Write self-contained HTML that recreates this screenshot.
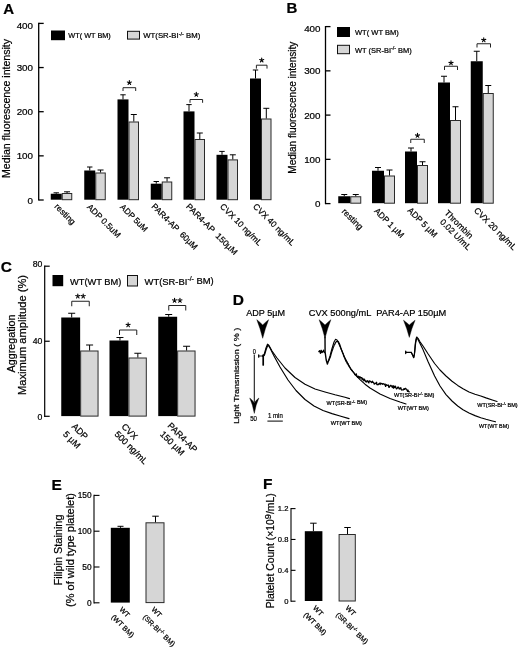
<!DOCTYPE html>
<html><head><meta charset="utf-8"><title>Figure</title>
<style>
html,body{margin:0;padding:0;background:#fff;}
body{width:520px;height:650px;overflow:hidden;font-family:'Liberation Sans', sans-serif;}
svg{display:block;filter:blur(0.3px);}
svg text{font-family:"Liberation Sans",sans-serif;fill:#000;stroke:#000;stroke-width:0.22px;}
</style></head><body>
<svg width="520" height="650" viewBox="0 0 520 650">
<rect width="520" height="650" fill="#fff"/>
<text x="3.2" y="13.6" font-size="15" font-weight="bold">A</text>
<line x1="38.7" y1="22.799999999999997" x2="38.7" y2="200.6" stroke="#000" stroke-width="1.3"/>
<line x1="38.7" y1="200.0" x2="43.7" y2="200.0" stroke="#000" stroke-width="1.3"/>
<text x="33" y="203.528" font-size="9.8" text-anchor="end">0</text>
<line x1="38.7" y1="155.85" x2="43.7" y2="155.85" stroke="#000" stroke-width="1.3"/>
<text x="33" y="159.378" font-size="9.8" text-anchor="end">100</text>
<line x1="38.7" y1="111.7" x2="43.7" y2="111.7" stroke="#000" stroke-width="1.3"/>
<text x="33" y="115.22800000000001" font-size="9.8" text-anchor="end">200</text>
<line x1="38.7" y1="67.55000000000001" x2="43.7" y2="67.55000000000001" stroke="#000" stroke-width="1.3"/>
<text x="33" y="71.07800000000002" font-size="9.8" text-anchor="end">300</text>
<line x1="38.7" y1="23.400000000000006" x2="43.7" y2="23.400000000000006" stroke="#000" stroke-width="1.3"/>
<text x="33" y="28.528000000000006" font-size="9.8" text-anchor="end">400</text>
<text x="10.3" y="108.5" font-size="10.5" text-anchor="middle" transform="rotate(-90 10.3 108.5)" textLength="139" lengthAdjust="spacingAndGlyphs">Median fluorescence intensity</text>
<rect x="51" y="30.5" width="14" height="9.7" fill="#000"/>
<text x="68.3" y="38.4" font-size="7.4" textLength="42.5" lengthAdjust="spacingAndGlyphs">WT( WT BM)</text>
<rect x="127.5" y="31.3" width="12" height="7.8" fill="#d6d6d6" stroke="#111" stroke-width="1"/>
<text x="143.3" y="38.4" font-size="7.5" textLength="57" lengthAdjust="spacingAndGlyphs">WT(SR-BI<tspan font-size="72%" dy="-0.5em">-/-</tspan><tspan dy="0.325em"> BM)</tspan></text>
<rect x="50.75" y="193.75" width="11" height="5.949999999999989" fill="#000"/>
<rect x="62.25" y="193.5" width="9.5" height="6.199999999999989" fill="#d6d6d6" stroke="#2a2a2a" stroke-width="1"/>
<line x1="56.25" y1="193.75" x2="56.25" y2="192.8" stroke="#000" stroke-width="1"/>
<line x1="53.55" y1="192.8" x2="58.95" y2="192.8" stroke="#000" stroke-width="1"/>
<line x1="67.05" y1="193.0" x2="67.05" y2="191.8" stroke="#000" stroke-width="1"/>
<line x1="64.05" y1="191.8" x2="70.05" y2="191.8" stroke="#000" stroke-width="1"/>
<rect x="84.25" y="170.5" width="11" height="29.19999999999999" fill="#000"/>
<rect x="95.75" y="173.0" width="9.5" height="26.69999999999999" fill="#d6d6d6" stroke="#2a2a2a" stroke-width="1"/>
<line x1="89.75" y1="170.5" x2="89.75" y2="167.0" stroke="#000" stroke-width="1"/>
<line x1="87.05" y1="167.0" x2="92.45" y2="167.0" stroke="#000" stroke-width="1"/>
<line x1="100.55" y1="172.5" x2="100.55" y2="170.0" stroke="#000" stroke-width="1"/>
<line x1="97.55" y1="170.0" x2="103.55" y2="170.0" stroke="#000" stroke-width="1"/>
<rect x="117.5" y="99.4" width="11" height="100.29999999999998" fill="#000"/>
<rect x="129.0" y="122.0" width="9.5" height="77.69999999999999" fill="#d6d6d6" stroke="#2a2a2a" stroke-width="1"/>
<line x1="123.0" y1="99.4" x2="123.0" y2="94.8" stroke="#000" stroke-width="1"/>
<line x1="120.3" y1="94.8" x2="125.7" y2="94.8" stroke="#000" stroke-width="1"/>
<line x1="133.8" y1="121.5" x2="133.8" y2="114.5" stroke="#000" stroke-width="1"/>
<line x1="130.8" y1="114.5" x2="136.8" y2="114.5" stroke="#000" stroke-width="1"/>
<rect x="150.75" y="183.7" width="11" height="16.0" fill="#000"/>
<rect x="162.25" y="182.0" width="9.5" height="17.69999999999999" fill="#d6d6d6" stroke="#2a2a2a" stroke-width="1"/>
<line x1="156.25" y1="183.7" x2="156.25" y2="181.5" stroke="#000" stroke-width="1"/>
<line x1="153.55" y1="181.5" x2="158.95" y2="181.5" stroke="#000" stroke-width="1"/>
<line x1="167.05" y1="181.5" x2="167.05" y2="177.8" stroke="#000" stroke-width="1"/>
<line x1="164.05" y1="177.8" x2="170.05" y2="177.8" stroke="#000" stroke-width="1"/>
<rect x="183.5" y="111.4" width="11" height="88.29999999999998" fill="#000"/>
<rect x="195.0" y="139.5" width="9.5" height="60.19999999999999" fill="#d6d6d6" stroke="#2a2a2a" stroke-width="1"/>
<line x1="189.0" y1="111.4" x2="189.0" y2="104.6" stroke="#000" stroke-width="1"/>
<line x1="186.3" y1="104.6" x2="191.7" y2="104.6" stroke="#000" stroke-width="1"/>
<line x1="199.8" y1="139.0" x2="199.8" y2="133.0" stroke="#000" stroke-width="1"/>
<line x1="196.8" y1="133.0" x2="202.8" y2="133.0" stroke="#000" stroke-width="1"/>
<rect x="216.5" y="154.8" width="11" height="44.89999999999998" fill="#000"/>
<rect x="228.0" y="159.9" width="9.5" height="39.79999999999998" fill="#d6d6d6" stroke="#2a2a2a" stroke-width="1"/>
<line x1="222.0" y1="154.8" x2="222.0" y2="151.4" stroke="#000" stroke-width="1"/>
<line x1="219.3" y1="151.4" x2="224.7" y2="151.4" stroke="#000" stroke-width="1"/>
<line x1="232.8" y1="159.4" x2="232.8" y2="154.8" stroke="#000" stroke-width="1"/>
<line x1="229.8" y1="154.8" x2="235.8" y2="154.8" stroke="#000" stroke-width="1"/>
<rect x="250.0" y="78.5" width="11" height="121.19999999999999" fill="#000"/>
<rect x="261.5" y="119.0" width="9.5" height="80.69999999999999" fill="#d6d6d6" stroke="#2a2a2a" stroke-width="1"/>
<line x1="255.5" y1="78.5" x2="255.5" y2="70.0" stroke="#000" stroke-width="1"/>
<line x1="252.8" y1="70.0" x2="258.2" y2="70.0" stroke="#000" stroke-width="1"/>
<line x1="266.3" y1="118.5" x2="266.3" y2="108.3" stroke="#000" stroke-width="1"/>
<line x1="263.3" y1="108.3" x2="269.3" y2="108.3" stroke="#000" stroke-width="1"/>
<polyline points="123,91 123,87.7 135.7,87.7 135.7,91" fill="none" stroke="#222" stroke-width="1"/>
<path d="M129.35,82.70 L129.35,80.55 M129.35,82.70 L131.39,82.04 M129.35,82.70 L130.61,84.44 M129.35,82.70 L128.09,84.44 M129.35,82.70 L127.31,82.04 " stroke="#000" stroke-width="1.1" fill="none" stroke-linecap="round"/>
<polyline points="190,102.8 190,99.5 202.6,99.5 202.6,102.8" fill="none" stroke="#222" stroke-width="1"/>
<path d="M196.30,94.50 L196.30,92.35 M196.30,94.50 L198.34,93.84 M196.30,94.50 L197.56,96.24 M196.30,94.50 L195.04,96.24 M196.30,94.50 L194.26,93.84 " stroke="#000" stroke-width="1.1" fill="none" stroke-linecap="round"/>
<polyline points="256.4,68.6 256.4,65.2 267,65.2 267,68.6" fill="none" stroke="#222" stroke-width="1"/>
<path d="M261.70,60.20 L261.70,58.05 M261.70,60.20 L263.74,59.54 M261.70,60.20 L262.96,61.94 M261.70,60.20 L260.44,61.94 M261.70,60.20 L259.66,59.54 " stroke="#000" stroke-width="1.1" fill="none" stroke-linecap="round"/>
<text x="54.1" y="207.1" font-size="8.5" transform="rotate(45 54.1 207.1)">resting</text>
<text x="86.6" y="207.6" font-size="8.5" transform="rotate(45 86.6 207.6)">ADP 0.5uM</text>
<text x="119.6" y="207.6" font-size="8.5" transform="rotate(45 119.6 207.6)" textLength="35" lengthAdjust="spacingAndGlyphs">ADP 5uM</text>
<text x="151.1" y="207.1" font-size="8.5" transform="rotate(45 151.1 207.1)" textLength="61" lengthAdjust="spacingAndGlyphs">PAR4-AP&#160;&#160;60&#181;M</text>
<text x="185.6" y="207.1" font-size="8.5" transform="rotate(45 185.6 207.1)" textLength="68.5" lengthAdjust="spacingAndGlyphs">PAR4-AP&#160;&#160;150&#181;M</text>
<text x="219.6" y="207.1" font-size="8.5" transform="rotate(45 219.6 207.1)">CVX 10 ng/mL</text>
<text x="252.6" y="207.1" font-size="8.5" transform="rotate(45 252.6 207.1)">CVX 40 ng/mL</text>
<text x="286.6" y="13" font-size="15" font-weight="bold">B</text>
<line x1="325.5" y1="26.0" x2="325.5" y2="204.2" stroke="#000" stroke-width="1.3"/>
<line x1="325.5" y1="203.6" x2="330.5" y2="203.6" stroke="#000" stroke-width="1.3"/>
<text x="320.5" y="207.128" font-size="9.8" text-anchor="end">0</text>
<line x1="325.5" y1="159.35" x2="330.5" y2="159.35" stroke="#000" stroke-width="1.3"/>
<text x="320.5" y="162.878" font-size="9.8" text-anchor="end">100</text>
<line x1="325.5" y1="115.1" x2="330.5" y2="115.1" stroke="#000" stroke-width="1.3"/>
<text x="320.5" y="118.628" font-size="9.8" text-anchor="end">200</text>
<line x1="325.5" y1="70.85" x2="330.5" y2="70.85" stroke="#000" stroke-width="1.3"/>
<text x="320.5" y="74.378" font-size="9.8" text-anchor="end">300</text>
<line x1="325.5" y1="26.599999999999994" x2="330.5" y2="26.599999999999994" stroke="#000" stroke-width="1.3"/>
<text x="320.5" y="32.12799999999999" font-size="9.8" text-anchor="end">400</text>
<text x="296.3" y="107.7" font-size="10" text-anchor="middle" transform="rotate(-90 296.3 107.7)" textLength="132" lengthAdjust="spacingAndGlyphs">Median fluorescence intensity</text>
<rect x="337" y="27" width="13" height="10" fill="#000"/>
<text x="355" y="35.2" font-size="7.5" textLength="43.8" lengthAdjust="spacingAndGlyphs">WT( WT BM)</text>
<rect x="337.5" y="45.3" width="12" height="8.4" fill="#d6d6d6" stroke="#111" stroke-width="1"/>
<text x="355" y="52.8" font-size="7.5" textLength="56.8" lengthAdjust="spacingAndGlyphs">WT (SR-BI<tspan font-size="72%" dy="-0.5em">-/-</tspan><tspan dy="0.325em"> BM)</tspan></text>
<rect x="338.25" y="196.25" width="12" height="6.949999999999989" fill="#000"/>
<rect x="350.75" y="196.75" width="10" height="6.449999999999989" fill="#d6d6d6" stroke="#2a2a2a" stroke-width="1"/>
<line x1="344.25" y1="196.25" x2="344.25" y2="194.5" stroke="#000" stroke-width="1"/>
<line x1="341.25" y1="194.5" x2="347.25" y2="194.5" stroke="#000" stroke-width="1"/>
<line x1="355.75" y1="196.25" x2="355.75" y2="194.5" stroke="#000" stroke-width="1"/>
<line x1="352.75" y1="194.5" x2="358.75" y2="194.5" stroke="#000" stroke-width="1"/>
<rect x="372.0" y="170.75" width="12" height="32.44999999999999" fill="#000"/>
<rect x="384.5" y="176.0" width="10" height="27.19999999999999" fill="#d6d6d6" stroke="#2a2a2a" stroke-width="1"/>
<line x1="378.0" y1="170.75" x2="378.0" y2="167.5" stroke="#000" stroke-width="1"/>
<line x1="375.0" y1="167.5" x2="381.0" y2="167.5" stroke="#000" stroke-width="1"/>
<line x1="389.5" y1="175.5" x2="389.5" y2="170.0" stroke="#000" stroke-width="1"/>
<line x1="386.5" y1="170.0" x2="392.5" y2="170.0" stroke="#000" stroke-width="1"/>
<rect x="405.0" y="151.5" width="12" height="51.69999999999999" fill="#000"/>
<rect x="417.5" y="165.5" width="10" height="37.69999999999999" fill="#d6d6d6" stroke="#2a2a2a" stroke-width="1"/>
<line x1="411.0" y1="151.5" x2="411.0" y2="148.0" stroke="#000" stroke-width="1"/>
<line x1="408.0" y1="148.0" x2="414.0" y2="148.0" stroke="#000" stroke-width="1"/>
<line x1="422.5" y1="165.0" x2="422.5" y2="161.75" stroke="#000" stroke-width="1"/>
<line x1="419.5" y1="161.75" x2="425.5" y2="161.75" stroke="#000" stroke-width="1"/>
<rect x="438.0" y="82.5" width="12" height="120.69999999999999" fill="#000"/>
<rect x="450.5" y="120.5" width="10" height="82.69999999999999" fill="#d6d6d6" stroke="#2a2a2a" stroke-width="1"/>
<line x1="444.0" y1="82.5" x2="444.0" y2="76.25" stroke="#000" stroke-width="1"/>
<line x1="441.0" y1="76.25" x2="447.0" y2="76.25" stroke="#000" stroke-width="1"/>
<line x1="455.5" y1="120.0" x2="455.5" y2="106.75" stroke="#000" stroke-width="1"/>
<line x1="452.5" y1="106.75" x2="458.5" y2="106.75" stroke="#000" stroke-width="1"/>
<rect x="470.75" y="61.25" width="12" height="141.95" fill="#000"/>
<rect x="483.25" y="93.5" width="10" height="109.69999999999999" fill="#d6d6d6" stroke="#2a2a2a" stroke-width="1"/>
<line x1="476.75" y1="61.25" x2="476.75" y2="51.25" stroke="#000" stroke-width="1"/>
<line x1="473.75" y1="51.25" x2="479.75" y2="51.25" stroke="#000" stroke-width="1"/>
<line x1="488.25" y1="93.0" x2="488.25" y2="85.5" stroke="#000" stroke-width="1"/>
<line x1="485.25" y1="85.5" x2="491.25" y2="85.5" stroke="#000" stroke-width="1"/>
<polyline points="410.75,143 410.75,139.25 424.25,139.25 424.25,143" fill="none" stroke="#222" stroke-width="1"/>
<path d="M417.50,135.55 L417.50,133.40 M417.50,135.55 L419.54,134.89 M417.50,135.55 L418.76,137.29 M417.50,135.55 L416.24,137.29 M417.50,135.55 L415.46,134.89 " stroke="#000" stroke-width="1.1" fill="none" stroke-linecap="round"/>
<polyline points="444.5,70 444.5,66.25 457.5,66.25 457.5,70" fill="none" stroke="#222" stroke-width="1"/>
<path d="M451.00,63.05 L451.00,60.90 M451.00,63.05 L453.04,62.39 M451.00,63.05 L452.26,64.79 M451.00,63.05 L449.74,64.79 M451.00,63.05 L448.96,62.39 " stroke="#000" stroke-width="1.1" fill="none" stroke-linecap="round"/>
<polyline points="477,47.5 477,43.75 490.5,43.75 490.5,47.5" fill="none" stroke="#222" stroke-width="1"/>
<path d="M483.75,40.05 L483.75,37.90 M483.75,40.05 L485.79,39.39 M483.75,40.05 L485.01,41.79 M483.75,40.05 L482.49,41.79 M483.75,40.05 L481.71,39.39 " stroke="#000" stroke-width="1.1" fill="none" stroke-linecap="round"/>
<text x="341.3" y="212" font-size="8.6" transform="rotate(45 341.3 212)">resting</text>
<text x="373.7" y="211.5" font-size="8.6" transform="rotate(45 373.7 211.5)" textLength="38" lengthAdjust="spacingAndGlyphs">ADP 1 &#181;M</text>
<text x="407" y="211" font-size="8.6" transform="rotate(45 407 211)" textLength="38" lengthAdjust="spacingAndGlyphs">ADP 5 &#181;M</text>
<text x="444" y="213.5" font-size="8.6" transform="rotate(45 444 213.5)">Thrombin</text>
<text x="439.5" y="222.5" font-size="8.6" transform="rotate(45 439.5 222.5)">0.02 U/mL</text>
<text x="473.5" y="211" font-size="8.6" transform="rotate(45 473.5 211)">CVX 20 ng/mL</text>
<text x="0.8" y="272" font-size="15.5" font-weight="bold">C</text>
<line x1="44.7" y1="265.59999999999997" x2="44.7" y2="416.90000000000003" stroke="#000" stroke-width="1.2"/>
<line x1="44.7" y1="416.3" x2="49.7" y2="416.3" stroke="#000" stroke-width="1.2"/>
<text x="42.3" y="419.7" font-size="8.7" text-anchor="end">0</text>
<line x1="44.7" y1="341.25" x2="49.7" y2="341.25" stroke="#000" stroke-width="1.2"/>
<text x="42.3" y="343.85" font-size="8.7" text-anchor="end">40</text>
<line x1="44.7" y1="266.2" x2="49.7" y2="266.2" stroke="#000" stroke-width="1.2"/>
<text x="42.3" y="266.8" font-size="8.7" text-anchor="end">80</text>
<text x="15" y="343.5" font-size="11" text-anchor="middle" transform="rotate(-90 15 343.5)" textLength="58" lengthAdjust="spacingAndGlyphs">Aggregation</text>
<text x="26" y="335" font-size="11" text-anchor="middle" transform="rotate(-90 26 335)" textLength="120" lengthAdjust="spacingAndGlyphs">Maximum amplitude (%)</text>
<rect x="52.5" y="275" width="10.7" height="11.2" fill="#000"/>
<text x="70" y="284.5" font-size="9.2" textLength="51.3" lengthAdjust="spacingAndGlyphs">WT(WT BM)</text>
<rect x="127.5" y="275.5" width="10" height="10.5" fill="#d6d6d6" stroke="#111" stroke-width="1"/>
<text x="144.5" y="284.5" font-size="9.2" textLength="69.2" lengthAdjust="spacingAndGlyphs">WT(SR-BI<tspan font-size="72%" dy="-0.5em">-/-</tspan><tspan dy="0.325em"> BM)</tspan></text>
<rect x="61.25" y="317.5" width="18.9" height="98.60000000000002" fill="#000"/>
<rect x="80.65" y="351.0" width="17.4" height="65.10000000000002" fill="#d6d6d6" stroke="#2a2a2a" stroke-width="1"/>
<line x1="71.7" y1="317.5" x2="71.7" y2="313.25" stroke="#000" stroke-width="1"/>
<line x1="68.2" y1="313.25" x2="75.2" y2="313.25" stroke="#000" stroke-width="1"/>
<line x1="89.6" y1="350.5" x2="89.6" y2="345.0" stroke="#000" stroke-width="1"/>
<line x1="86.1" y1="345.0" x2="93.1" y2="345.0" stroke="#000" stroke-width="1"/>
<rect x="109.5" y="340.5" width="18.9" height="75.60000000000002" fill="#000"/>
<rect x="128.9" y="358.0" width="17.4" height="58.10000000000002" fill="#d6d6d6" stroke="#2a2a2a" stroke-width="1"/>
<line x1="119.95" y1="340.5" x2="119.95" y2="337.5" stroke="#000" stroke-width="1"/>
<line x1="116.45" y1="337.5" x2="123.45" y2="337.5" stroke="#000" stroke-width="1"/>
<line x1="137.85" y1="357.5" x2="137.85" y2="353.25" stroke="#000" stroke-width="1"/>
<line x1="134.35" y1="353.25" x2="141.35" y2="353.25" stroke="#000" stroke-width="1"/>
<rect x="158.25" y="316.75" width="18.9" height="99.35000000000002" fill="#000"/>
<rect x="177.65" y="351.0" width="17.4" height="65.10000000000002" fill="#d6d6d6" stroke="#2a2a2a" stroke-width="1"/>
<line x1="168.7" y1="316.75" x2="168.7" y2="314.5" stroke="#000" stroke-width="1"/>
<line x1="165.2" y1="314.5" x2="172.2" y2="314.5" stroke="#000" stroke-width="1"/>
<line x1="186.6" y1="350.5" x2="186.6" y2="346.25" stroke="#000" stroke-width="1"/>
<line x1="183.1" y1="346.25" x2="190.1" y2="346.25" stroke="#000" stroke-width="1"/>
<polyline points="71.75,306.25 71.75,301.25 89.25,301.25 89.25,306.25" fill="none" stroke="#222" stroke-width="1"/>
<path d="M77.80,296.25 L77.80,294.10 M77.80,296.25 L79.84,295.59 M77.80,296.25 L79.06,297.99 M77.80,296.25 L76.54,297.99 M77.80,296.25 L75.76,295.59 " stroke="#000" stroke-width="1.1" fill="none" stroke-linecap="round"/>
<path d="M83.20,296.25 L83.20,294.10 M83.20,296.25 L85.24,295.59 M83.20,296.25 L84.46,297.99 M83.20,296.25 L81.94,297.99 M83.20,296.25 L81.16,295.59 " stroke="#000" stroke-width="1.1" fill="none" stroke-linecap="round"/>
<polyline points="119.5,335 119.5,330 136.75,330 136.75,335" fill="none" stroke="#222" stroke-width="1"/>
<path d="M128.12,325.00 L128.12,322.85 M128.12,325.00 L130.17,324.34 M128.12,325.00 L129.39,326.74 M128.12,325.00 L126.86,326.74 M128.12,325.00 L126.08,324.34 " stroke="#000" stroke-width="1.1" fill="none" stroke-linecap="round"/>
<polyline points="168.75,310.5 168.75,305.5 185.75,305.5 185.75,310.5" fill="none" stroke="#222" stroke-width="1"/>
<path d="M174.55,300.50 L174.55,298.35 M174.55,300.50 L176.59,299.84 M174.55,300.50 L175.81,302.24 M174.55,300.50 L173.29,302.24 M174.55,300.50 L172.51,299.84 " stroke="#000" stroke-width="1.1" fill="none" stroke-linecap="round"/>
<path d="M179.95,300.50 L179.95,298.35 M179.95,300.50 L181.99,299.84 M179.95,300.50 L181.21,302.24 M179.95,300.50 L178.69,302.24 M179.95,300.50 L177.91,299.84 " stroke="#000" stroke-width="1.1" fill="none" stroke-linecap="round"/>
<text x="71.25" y="426.95" font-size="9" transform="rotate(45 71.25 426.95)">ADP</text>
<text x="62.5" y="434.7" font-size="9" transform="rotate(45 62.5 434.7)">5 &#181;M</text>
<text x="121" y="427.2" font-size="9" transform="rotate(45 121 427.2)">CVX</text>
<text x="114" y="434.7" font-size="9" transform="rotate(45 114 434.7)">500 ng/mL</text>
<text x="167" y="426.2" font-size="9" transform="rotate(45 167 426.2)">PAR4-AP</text>
<text x="159.5" y="434.7" font-size="9" transform="rotate(45 159.5 434.7)">150 &#181;M</text>
<text x="232.8" y="304.6" font-size="15.5" font-weight="bold">D</text>
<text x="246.3" y="316" font-size="9.6" textLength="38.7" lengthAdjust="spacingAndGlyphs">ADP 5&#181;M</text>
<text x="308.8" y="316" font-size="9.6" textLength="62.5" lengthAdjust="spacingAndGlyphs">CVX 500ng/mL</text>
<text x="376.3" y="316" font-size="9.6" textLength="70" lengthAdjust="spacingAndGlyphs">PAR4-AP 150&#181;M</text>
<path d="M256.8,319.7 Q260.34,322.49 262.7,324.908 Q265.06,322.49 268.59999999999997,319.7 Q265.178,328.256 262.7,338.3 Q260.222,328.256 256.8,319.7Z" fill="#000" stroke="#000" stroke-width="0.4" stroke-linejoin="round"/>
<path d="M319.1,319.7 Q322.64,322.49 325,324.908 Q327.36,322.49 330.9,319.7 Q327.478,328.256 325,338.3 Q322.522,328.256 319.1,319.7Z" fill="#000" stroke="#000" stroke-width="0.4" stroke-linejoin="round"/>
<path d="M403.5,320.2 Q406.98,322.78 409.3,325.01599999999996 Q411.62,322.78 415.1,320.2 Q411.736,328.11199999999997 409.3,337.4 Q406.86400000000003,328.11199999999997 403.5,320.2Z" fill="#000" stroke="#000" stroke-width="0.4" stroke-linejoin="round"/>
<text x="239.2" y="375.8" font-size="8" text-anchor="middle" transform="rotate(-90 239.2 375.8)" textLength="96" lengthAdjust="spacingAndGlyphs">Light Transmission ( % )</text>
<line x1="254.3" y1="354.6" x2="254.3" y2="402" stroke="#111" stroke-width="1.05"/>
<path d="M249.7,398 Q252.4,400 254.3,402.8 Q256.2,400 258.9,398 Q255.8,404.6 254.3,413.4 Q252.8,404.6 249.7,398Z" fill="#000" stroke="#000" stroke-width="0.4" stroke-linejoin="round"/>
<text x="254.4" y="354.2" font-size="7" text-anchor="middle" textLength="3.1" lengthAdjust="spacingAndGlyphs">0</text>
<text x="253.6" y="420.6" font-size="7.3" text-anchor="middle" textLength="6.8" lengthAdjust="spacingAndGlyphs">50</text>
<text x="268" y="418.2" font-size="7.3" textLength="14.8" lengthAdjust="spacingAndGlyphs">1 min</text>
<line x1="267.4" y1="421.1" x2="282.8" y2="421.1" stroke="#000" stroke-width="1.0"/>
<path d="M258.5,356 L262.6,356" fill="none" stroke="#000" stroke-width="0.9" stroke-linejoin="round" stroke-linecap="round"/>
<path d="M258.7,354.8 L258.7,357.2" fill="none" stroke="#000" stroke-width="1.2" stroke-linejoin="round" stroke-linecap="round"/>
<path d="M263.2,355 L263.2,365" fill="none" stroke="#000" stroke-width="1.7" stroke-linejoin="round" stroke-linecap="round"/>
<path d="M262.9,356 L264.2,354.5 L266,348 L267.5,344.2 L269,345.5 L272,351 L277,358 L285,368 L295,377.5 L305,384.3 L315,389 L325,392 L335,394.8 L345,397.3 L349.5,398.6" fill="none" stroke="#000" stroke-width="1.15" stroke-linejoin="round" stroke-linecap="round"/>
<path d="M262.9,356.5 L264.5,355 L266.3,349 L268,345 L270,348 L274,356 L280,367 L288,380 L296,390.5 L305,399.5 L314,406 L323,410.5 L332,413.6 L340,416 L349,418.6" fill="none" stroke="#000" stroke-width="1.15" stroke-linejoin="round" stroke-linecap="round"/>
<text x="326.6" y="404.6" font-size="5.5">WT(SR-BI<tspan font-size="72%" dy="-0.5em">-/-</tspan><tspan dy="0.325em"> BM)</tspan></text>
<text x="330.8" y="424.8" font-size="5.5" textLength="31" lengthAdjust="spacingAndGlyphs">WT(WT BM)</text>
<path d="M318.80,351.58 L319.60,350.68 L320.40,353.28 L321.20,350.28 L322.00,352.69 L322.80,351.80 L323.60,350.20 L324.40,352.54" fill="none" stroke="#000" stroke-width="1.3" stroke-linejoin="round" stroke-linecap="round"/>
<path d="M325,337 L325.1,352 L326.2,360 L327.4,364 L328.4,361" fill="none" stroke="#000" stroke-width="1.4" stroke-linejoin="round" stroke-linecap="round"/>
<path d="M328.4,361 L330,356 L332,348.5 L334,342 L335.6,339.3 L337,340 L338.5,343 L340,346.5 L345,358 L350,367.5 L355,374.5 L360,379.7 L365,384.2 L370,388 L380,394 L390,398.4 L400,402 L406,404" fill="none" stroke="#000" stroke-width="1.1" stroke-linejoin="round" stroke-linecap="round"/>
<path d="M328.40,361.27 L328.85,360.48 L329.30,359.32 L329.75,358.34 L330.20,357.26 L330.65,355.89 L331.10,353.96 L331.55,352.44 L332.00,351.06 L332.45,349.99 L332.90,348.56 L333.35,347.24 L333.80,346.29 L334.25,344.84 L334.70,344.45 L335.15,343.38 L335.60,342.52 L336.05,341.78 L336.50,341.65 L336.95,341.68 L337.40,341.14 L337.85,341.12 L338.30,341.67 L338.75,342.44 L339.20,343.42 L339.65,344.23 L340.10,345.58 L340.55,347.00 L341.00,348.59 L341.45,349.65 L341.90,350.77 L342.35,352.16 L342.80,353.16 L343.25,354.13 L343.70,356.00 L344.15,357.05 L344.60,357.59 L345.05,359.19 L345.50,359.94 L345.95,361.24 L346.40,361.84 L346.85,362.03 L347.30,363.81 L347.75,363.42 L348.20,364.65 L348.65,365.93 L349.10,365.89 L349.55,367.17 L350.00,367.35 L350.45,368.78 L350.90,369.45 L351.35,369.72 L351.80,370.69 L352.25,370.44 L352.70,371.51 L353.15,371.91 L353.60,372.43 L354.05,372.80 L354.50,373.88 L354.95,374.56 L355.40,374.28 L355.85,374.91 L356.30,373.85 L356.75,375.94 L357.20,376.16 L357.65,377.45 L358.10,377.35 L358.55,376.26 L359.00,376.89 L359.45,378.02 L359.90,376.63 L360.35,378.07 L360.80,377.50 L361.25,377.59 L361.70,377.66 L362.15,379.80 L362.60,378.30 L363.05,378.84 L363.50,379.46 L363.95,380.98 L364.40,379.07 L364.85,380.29 L365.30,380.72 L365.75,381.76 L366.20,381.72 L366.65,381.98 L367.10,380.53 L367.55,381.04 L368.00,381.02 L368.45,382.57 L368.90,382.91 L369.35,380.86 L369.80,381.07 L370.25,381.33 L370.70,381.43 L371.15,382.21 L371.60,382.59 L372.05,381.81 L372.50,381.21 L372.95,382.43 L373.40,382.39 L373.85,383.03 L374.30,384.17 L374.75,383.56 L375.20,383.19 L375.65,383.56 L376.10,383.82 L376.55,382.24 L377.00,384.62 L377.45,384.39 L377.90,384.75 L378.35,384.64 L378.80,383.65 L379.25,383.76 L379.70,383.06 L380.15,384.59 L380.60,383.14 L381.05,383.25 L381.50,383.73 L381.95,383.70 L382.40,384.27 L382.85,383.59 L383.30,383.54 L383.75,384.05 L384.20,384.01 L384.65,384.81 L385.10,383.99 L385.55,386.38 L386.00,385.77 L386.45,384.61 L386.90,384.98 L387.35,385.33 L387.80,385.47 L388.25,384.91 L388.70,386.97 L389.15,387.45 L389.60,386.12 L390.05,386.27 L390.50,385.28 L390.95,385.42 L391.40,386.16 L391.85,386.03 L392.30,387.65 L392.75,385.94 L393.20,385.65 L393.65,388.25 L394.10,387.20 L394.55,386.26 L395.00,387.42 L395.45,386.11 L395.90,387.56 L396.35,388.86 L396.80,388.64 L397.25,388.28 L397.70,387.20 L398.15,387.57 L398.60,387.12 L399.05,388.84 L399.50,388.29 L399.95,389.04 L400.40,387.94 L400.85,387.76 L401.30,389.46 L401.75,390.04 L402.20,389.79 L402.65,389.77 L403.10,389.92 L403.55,389.82 L404.00,388.54 L404.45,389.44 L404.90,389.11 L405.35,388.34 L405.80,388.44 L406.25,389.23 L406.70,389.29 L407.15,390.57 L407.60,391.39 L408.05,390.13 L408.50,391.56 L408.95,391.81 L409.40,391.83" fill="none" stroke="#000" stroke-width="1.25" stroke-linejoin="round" stroke-linecap="round"/>
<text x="394" y="397" font-size="5.5">WT(SR-BI<tspan font-size="72%" dy="-0.5em">-/-</tspan><tspan dy="0.325em"> BM)</tspan></text>
<text x="397.8" y="410" font-size="5.5" textLength="31" lengthAdjust="spacingAndGlyphs">WT(WT BM)</text>
<path d="M405.6,352.4 L411.4,352.4" fill="none" stroke="#000" stroke-width="1.1" stroke-linejoin="round" stroke-linecap="round"/>
<path d="M405.7,351.2 L405.7,353.6" fill="none" stroke="#000" stroke-width="1.3" stroke-linejoin="round" stroke-linecap="round"/>
<path d="M411.4,352.4 L412.6,355 L413.6,357.7 L414.4,354 L415.1,345 L415.9,339.5 L416.7,337 L418,338.3 L420,341.8 L423,346 L428,353.8 L434.6,363.5 L440,370 L446,376 L452,381.3 L457.7,385.4 L463,388.8 L469,392 L475,394.2 L480.8,396 L486,397.9 L492.3,400 L497,401.5" fill="none" stroke="#000" stroke-width="1.15" stroke-linejoin="round" stroke-linecap="round"/>
<path d="M411.4,352.7 L412.8,355.4 L413.9,357.3 L414.8,352 L415.6,343.5 L416.6,338.6 L417.6,338.8 L419.5,342.5 L423,349.6 L428,361.5 L434.6,376 L440,386 L446,394.6 L452,401 L457.7,406 L463,409.8 L469,413 L475,415.6 L480.8,417.7 L486,419.3 L492.3,421 L495.5,421.8" fill="none" stroke="#000" stroke-width="1.15" stroke-linejoin="round" stroke-linecap="round"/>
<text x="477.3" y="406.8" font-size="5.5">WT(SR-BI<tspan font-size="72%" dy="-0.5em">-/-</tspan><tspan dy="0.325em"> BM)</tspan></text>
<text x="479" y="428" font-size="5.5" textLength="30" lengthAdjust="spacingAndGlyphs">WT(WT BM)</text>
<text x="51.6" y="489.5" font-size="15.5" font-weight="bold">E</text>
<line x1="94" y1="494.79999999999995" x2="94" y2="603.4" stroke="#000" stroke-width="1.1"/>
<line x1="94" y1="602.8" x2="99.5" y2="602.8" stroke="#000" stroke-width="1.1"/>
<text x="91.5" y="605.6999999999999" font-size="8.3" text-anchor="end">0</text>
<line x1="94" y1="567.0" x2="99.5" y2="567.0" stroke="#000" stroke-width="1.1"/>
<text x="91.5" y="569.9" font-size="8.3" text-anchor="end">50</text>
<line x1="94" y1="531.1999999999999" x2="99.5" y2="531.1999999999999" stroke="#000" stroke-width="1.1"/>
<text x="91.5" y="534.0999999999999" font-size="8.3" text-anchor="end">100</text>
<line x1="94" y1="495.4" x2="99.5" y2="495.4" stroke="#000" stroke-width="1.1"/>
<text x="91.5" y="498.29999999999995" font-size="8.3" text-anchor="end">150</text>
<text x="61.6" y="550" font-size="11" text-anchor="middle" transform="rotate(-90 61.6 550)" textLength="71" lengthAdjust="spacingAndGlyphs">Filipin Staining</text>
<text x="73.7" y="550" font-size="11" text-anchor="middle" transform="rotate(-90 73.7 550)" textLength="114" lengthAdjust="spacingAndGlyphs">(% of wild type platelet)</text>
<rect x="110.8" y="527.8" width="19" height="74.79999999999995" fill="#000"/>
<line x1="120.5" y1="527.8" x2="120.5" y2="526.3" stroke="#000" stroke-width="1"/>
<line x1="117.5" y1="526.3" x2="123.5" y2="526.3" stroke="#000" stroke-width="1"/>
<rect x="146.0" y="522.8" width="18" height="79.79999999999995" fill="#d6d6d6" stroke="#2a2a2a" stroke-width="1"/>
<line x1="155.5" y1="522.3" x2="155.5" y2="516.2" stroke="#000" stroke-width="1"/>
<line x1="152.25" y1="516.2" x2="158.75" y2="516.2" stroke="#000" stroke-width="1"/>
<text x="118.9" y="610" font-size="7.2" transform="rotate(45 118.9 610)">WT</text>
<text x="110.9" y="617.6" font-size="7.2" transform="rotate(45 110.9 617.6)">(WT BM)</text>
<text x="150.9" y="610" font-size="7.2" transform="rotate(45 150.9 610)">WT</text>
<text x="142.5" y="617.6" font-size="7.2" transform="rotate(45 142.5 617.6)">(SR-BI<tspan font-size="72%" dy="-0.5em">-/-</tspan><tspan dy="0.325em"> BM)</tspan></text>
<text x="263" y="489.3" font-size="15.5" font-weight="bold">F</text>
<line x1="291" y1="508.0" x2="291" y2="601.8000000000001" stroke="#000" stroke-width="1.1"/>
<line x1="291" y1="601.2" x2="295.5" y2="601.2" stroke="#000" stroke-width="1.1"/>
<text x="288.4" y="603.9000000000001" font-size="7.6" text-anchor="end">0</text>
<line x1="291" y1="570.3333333333334" x2="295.5" y2="570.3333333333334" stroke="#000" stroke-width="1.1"/>
<text x="288.4" y="573.0333333333334" font-size="7.6" text-anchor="end">0.4</text>
<line x1="291" y1="539.4666666666667" x2="295.5" y2="539.4666666666667" stroke="#000" stroke-width="1.1"/>
<text x="288.4" y="542.1666666666667" font-size="7.6" text-anchor="end">0.8</text>
<line x1="291" y1="508.6" x2="295.5" y2="508.6" stroke="#000" stroke-width="1.1"/>
<text x="288.4" y="511.3" font-size="7.6" text-anchor="end">1.2</text>
<text x="274.4" y="550.8" font-size="10.4" text-anchor="middle" transform="rotate(-90 274.4 550.8)" textLength="115" lengthAdjust="spacingAndGlyphs">Platelet Count (&#215;10<tspan font-size="88%" dy="-0.32em">9</tspan><tspan dy="0.28em">/mL)</tspan></text>
<rect x="304.8" y="531.2" width="17.6" height="69.79999999999995" fill="#000"/>
<line x1="313.4" y1="531.2" x2="313.4" y2="523.2" stroke="#000" stroke-width="1"/>
<line x1="310.15" y1="523.2" x2="316.65" y2="523.2" stroke="#000" stroke-width="1"/>
<rect x="339.1" y="534.5" width="16.2" height="66.5" fill="#d6d6d6" stroke="#2a2a2a" stroke-width="1"/>
<line x1="347.5" y1="534" x2="347.5" y2="527.5" stroke="#000" stroke-width="1"/>
<line x1="344.25" y1="527.5" x2="350.75" y2="527.5" stroke="#000" stroke-width="1"/>
<text x="312.5" y="608.6" font-size="7.2" transform="rotate(45 312.5 608.6)">WT</text>
<text x="303.3" y="615.2" font-size="7.2" transform="rotate(45 303.3 615.2)">(WT BM)</text>
<text x="344.9" y="608.4000000000001" font-size="7.2" transform="rotate(45 344.9 608.4000000000001)">WT</text>
<text x="335.5" y="615.2" font-size="7.2" transform="rotate(45 335.5 615.2)">(SR-BI<tspan font-size="72%" dy="-0.5em">-/-</tspan><tspan dy="0.325em"> BM)</tspan></text>
</svg>
</body></html>
